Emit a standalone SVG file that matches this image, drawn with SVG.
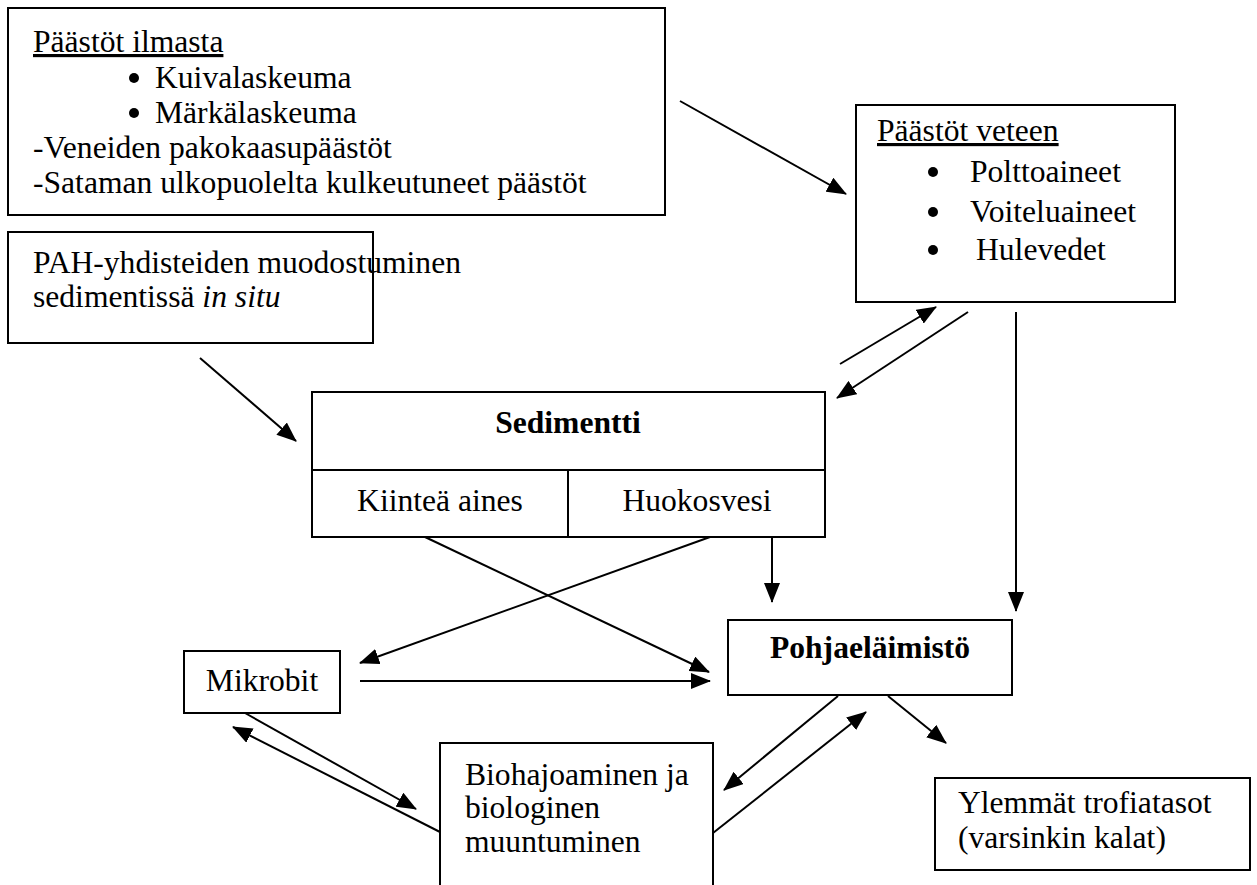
<svg xmlns="http://www.w3.org/2000/svg" width="1257" height="885" viewBox="0 0 1257 885">
<style>
.box{fill:#fff;stroke:#000;stroke-width:2}
.t{font-family:"Liberation Serif","Times New Roman",serif;font-size:31.6px;fill:#000}
.b{font-weight:bold}
.u{text-decoration:underline}
.c{text-anchor:middle}
.ln{stroke:#000;stroke-width:2;fill:none;marker-end:url(#ah)}
</style>
<defs>
<marker id="ah" markerUnits="userSpaceOnUse" markerWidth="20" markerHeight="16" refX="19" refY="8" orient="auto" viewBox="0 0 20 16">
<path d="M0,0 L20,8 L0,16 z" fill="#000"/>
</marker>
</defs>
<rect width="1257" height="885" fill="#fff"/>
<g id="paastot-ilmasta">
<rect class="box" x="8" y="8" width="657" height="207"/>
<text class="t u" x="33" y="52">Päästöt ilmasta</text>
<circle cx="134" cy="78" r="5"/>
<text class="t" x="155" y="88">Kuivalaskeuma</text>
<circle cx="134" cy="113" r="5"/>
<text class="t" x="155" y="123">Märkälaskeuma</text>
<text class="t" x="33" y="158">-Veneiden pakokaasupäästöt</text>
<text class="t" x="33" y="193">-Sataman ulkopuolelta kulkeutuneet päästöt</text>
</g>
<g id="paastot-veteen">
<rect class="box" x="856" y="105" width="319" height="197"/>
<text class="t u" x="877" y="141">Päästöt veteen</text>
<circle cx="933" cy="172" r="5"/>
<text class="t" x="970" y="182">Polttoaineet</text>
<circle cx="933" cy="212" r="5"/>
<text class="t" x="970" y="222">Voiteluaineet</text>
<circle cx="933" cy="250" r="5"/>
<text class="t" x="976" y="260">Hulevedet</text>
</g>
<g id="pah">
<rect class="box" x="8" y="232" width="365" height="111"/>
<text class="t" x="33" y="273">PAH-yhdisteiden muodostuminen</text>
<text class="t" x="33" y="307">sedimentissä <tspan font-style="italic">in situ</tspan></text>
</g>
<g id="sedimentti">
<rect class="box" x="312" y="392" width="513" height="145"/>
<line x1="312" y1="470" x2="825" y2="470" stroke="#000" stroke-width="2"/>
<line x1="568" y1="470" x2="568" y2="537" stroke="#000" stroke-width="2"/>
<text class="t b c" x="568" y="433">Sedimentti</text>
<text class="t c" x="440" y="511">Kiinteä aines</text>
<text class="t c" x="697" y="511">Huokosvesi</text>
</g>
<g id="pohjaelaimisto">
<rect class="box" x="728" y="620" width="284" height="75"/>
<text class="t b c" x="870" y="658">Pohjaeläimistö</text>
</g>
<g id="mikrobit">
<rect class="box" x="184" y="651" width="156" height="62"/>
<text class="t c" x="262" y="691">Mikrobit</text>
</g>
<g id="biohajoaminen">
<path class="box" d="M440,890 V743 H713 V890" fill="#fff"/>
<text class="t" x="465" y="785">Biohajoaminen ja</text>
<text class="t" x="465" y="818">biologinen</text>
<text class="t" x="465" y="852">muuntuminen</text>
</g>
<g id="ylemmat">
<rect class="box" x="935" y="778" width="315" height="92"/>
<text class="t" x="958" y="813">Ylemmät trofiatasot</text>
<text class="t" x="958" y="848">(varsinkin kalat)</text>
</g>
<g id="connectors">
<line class="ln" x1="680" y1="101" x2="846" y2="194"/>
<line class="ln" x1="200" y1="358" x2="296" y2="441"/>
<line class="ln" x1="840" y1="364" x2="936" y2="307"/>
<line class="ln" x1="968" y1="312" x2="837" y2="398"/>
<line class="ln" x1="1016" y1="312" x2="1016" y2="611"/>
<line class="ln" x1="772" y1="537" x2="772" y2="602"/>
<line class="ln" x1="425" y1="537" x2="709" y2="672"/>
<line class="ln" x1="710" y1="537" x2="360" y2="663"/>
<line class="ln" x1="360" y1="681" x2="710" y2="681"/>
<line class="ln" x1="245" y1="713" x2="416" y2="809"/>
<line class="ln" x1="440" y1="832" x2="233" y2="727"/>
<line class="ln" x1="838" y1="696" x2="724" y2="790"/>
<line class="ln" x1="713" y1="833" x2="866" y2="712"/>
<line class="ln" x1="888" y1="696" x2="946" y2="743"/>
</g>
</svg>
